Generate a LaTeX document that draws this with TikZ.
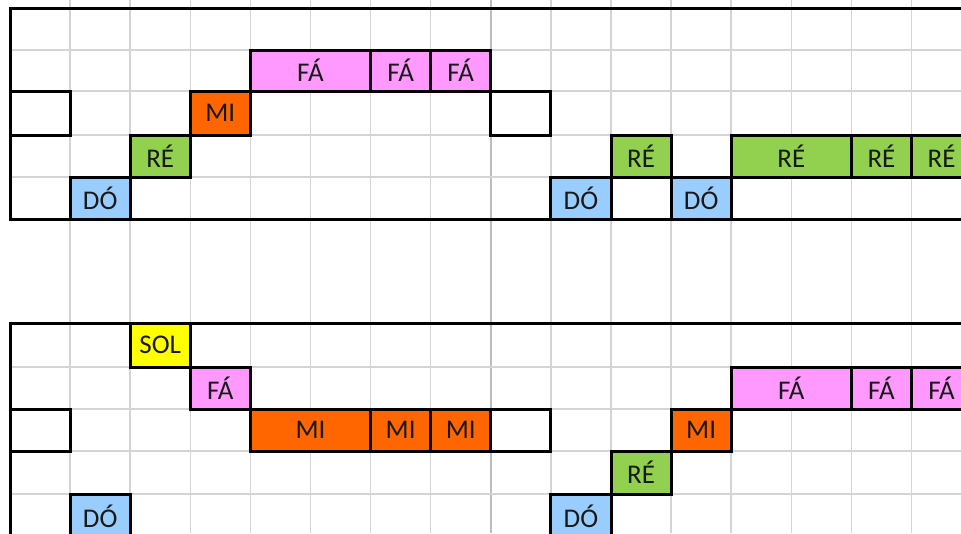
\documentclass[tikz,border=0pt]{standalone}
\usepackage{fontspec}
\setmainfont{Carlito}

\definecolor{gridgray}{HTML}{D4D4D4}
\definecolor{breakgray}{HTML}{BDBDBD}
\definecolor{docol}{HTML}{99CCFF}
\definecolor{recol}{HTML}{92D050}
\definecolor{micol}{HTML}{FF6600}
\definecolor{facol}{HTML}{FF99FF}
\definecolor{solcol}{HTML}{FFFF00}

\begin{document}
\begin{tikzpicture}[
        x=1pt, y=-1pt,
        grade/.style={draw=gridgray, line width=1.5pt},
        quebra/.style={draw=breakgray, line width=2.6pt},
        moldura/.style={draw, line width=3pt},
        cell/.style={draw, line width=3pt},
        nota/.style={font=\fontsize{27}{27}\selectfont, text=black!90, inner sep=0pt}
    ]
        \clip (0,0) rectangle (961,533);
        \fill[white] (0,0) rectangle (961,533);

        % grid
        \foreach \k in {1,...,15}
            \draw[grade] ({10+60.1*\k},0) -- ({10+60.1*\k},533);
        \draw[quebra] (490.8,0) -- (490.8,533);
        \foreach \y in {50,91,135,177,367,409,451,494}
            \draw[grade] (10,\y) -- (961,\y);

        % frames
        \draw[moldura] (975,8) -- (10,8) -- (10,219) -- (975,219);
        \draw[moldura] (975,323) -- (10,323) -- (10,540);

        % upper phrase
        \path[cell, fill=white] (10,91) rectangle (70.1,135) node[midway] (vazio1) {};
        \path[cell, fill=docol] (70.1,177) rectangle (130.2,219) node[nota, midway] (do1) {DÓ};
        \path[cell, fill=recol] (130.2,135) rectangle (190.3,177) node[nota, midway] (re1) {RÉ};
        \path[cell, fill=micol] (190.3,91) rectangle (250.4,135) node[nota, midway] (mi1) {MI};
        \path[cell, fill=facol] (250.4,50) rectangle (370.6,91) node[nota, midway] (fa1) {FÁ};
        \path[cell, fill=facol] (370.6,50) rectangle (430.7,91) node[nota, midway] (fa2) {FÁ};
        \path[cell, fill=facol] (430.7,50) rectangle (490.8,91) node[nota, midway] (fa3) {FÁ};
        \path[cell, fill=white] (490.8,91) rectangle (550.9,135) node[midway] (vazio2) {};
        \path[cell, fill=docol] (550.9,177) rectangle (611,219) node[nota, midway] (do2) {DÓ};
        \path[cell, fill=recol] (611,135) rectangle (671.1,177) node[nota, midway] (re2) {RÉ};
        \path[cell, fill=docol] (671.1,177) rectangle (731.2,219) node[nota, midway] (do3) {DÓ};
        \path[cell, fill=recol] (731.2,135) rectangle (851.4,177) node[nota, midway] (re3) {RÉ};
        \path[cell, fill=recol] (851.4,135) rectangle (911.5,177) node[nota, midway] (re4) {RÉ};
        \path[cell, fill=recol] (911.5,135) rectangle (971.6,177) node[nota, midway] (re5) {RÉ};

        % lower phrase
        \path[cell, fill=solcol] (130.2,323) rectangle (190.3,367) node[nota, midway] (sol1) {SOL};
        \path[cell, fill=facol] (190.3,367) rectangle (250.4,409) node[nota, midway] (fa4) {FÁ};
        \path[cell, fill=white] (10,409) rectangle (70.1,451) node[midway] (vazio3) {};
        \path[cell, fill=micol] (250.4,409) rectangle (370.6,451) node[nota, midway] (mi2) {MI};
        \path[cell, fill=micol] (370.6,409) rectangle (430.7,451) node[nota, midway] (mi3) {MI};
        \path[cell, fill=micol] (430.7,409) rectangle (490.8,451) node[nota, midway] (mi4) {MI};
        \path[cell, fill=white] (490.8,409) rectangle (550.9,451) node[midway] (vazio4) {};
        \path[cell, fill=docol] (70.1,494) rectangle (130.2,538) node[nota, midway] (do4) {DÓ};
        \path[cell, fill=docol] (550.9,494) rectangle (611,538) node[nota, midway] (do5) {DÓ};
        \path[cell, fill=recol] (611,451) rectangle (671.1,494) node[nota, midway] (re6) {RÉ};
        \path[cell, fill=micol] (671.1,409) rectangle (731.2,451) node[nota, midway] (mi5) {MI};
        \path[cell, fill=facol] (731.2,367) rectangle (851.4,409) node[nota, midway] (fa5) {FÁ};
        \path[cell, fill=facol] (851.4,367) rectangle (911.5,409) node[nota, midway] (fa6) {FÁ};
        \path[cell, fill=facol] (911.5,367) rectangle (971.6,409) node[nota, midway] (fa7) {FÁ};
\end{tikzpicture}
\end{document}
